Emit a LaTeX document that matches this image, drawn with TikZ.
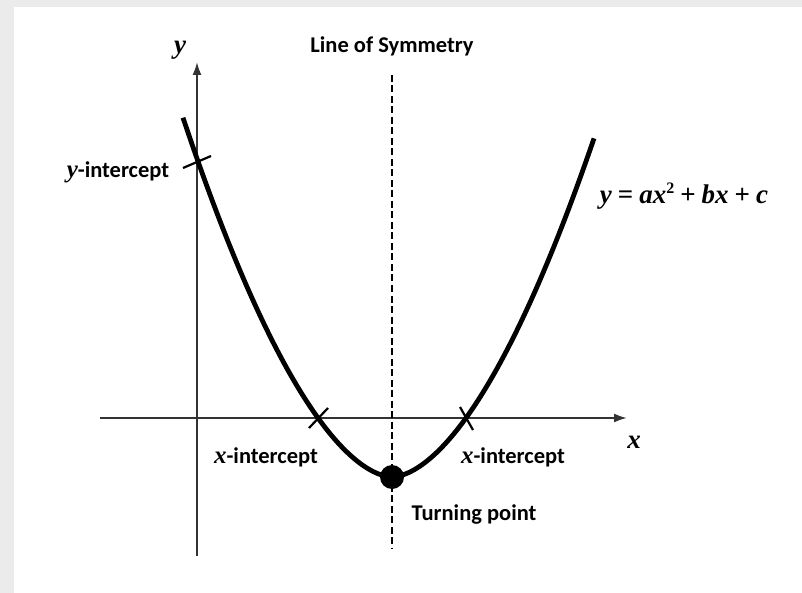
\documentclass[tikz,border=0pt]{standalone}
\usepackage{fontspec}
\setmainfont{Carlito}
\newfontfamily\eqfont{Liberation Serif}
\usetikzlibrary{arrows.meta}
\newcommand{\vv}[1]{{\fontsize{25}{28}\selectfont\eqfont\bfseries\itshape #1}}
\newcommand{\ev}[1]{{\fontsize{27}{30}\selectfont\eqfont\bfseries\itshape #1}}
\newcommand{\eo}[1]{\hspace{6pt}{\fontsize{27}{30}\selectfont\eqfont\bfseries #1}\hspace{6pt}}
\newcommand{\esup}[1]{\raisebox{10pt}{\fontsize{16}{18}\selectfont\eqfont\bfseries #1}}
\begin{document}
\begin{tikzpicture}[x=1pt,y=-1pt,
  lbl/.style={font=\fontsize{22.5}{27}\selectfont\bfseries, inner sep=0pt},
  axisline/.style={draw=black!80, line width=2pt, -{Latex[length=13pt,width=9pt]}},
  curveline/.style={line width=4.8pt, black},
  tickmark/.style={line width=2.2pt, black},
  symline/.style={line width=1.6pt, dash pattern=on 7pt off 3.5pt}]
\useasboundingbox (0,0) rectangle (802,593);
\fill[black!8] (0,0) rectangle (802,593);
\fill[white] (14,7) rectangle (802,593);
% axes and symmetry line
\coordinate (yb) at (197,556);
\coordinate (yt) at (197,62);
\coordinate (xl) at (100,418);
\coordinate (xr) at (627,418);
\coordinate (st) at (392,75);
\coordinate (sb) at (392,548);
\draw[axisline] (xl) -- (xr);
\draw[axisline] (yb) -- (yt);
\draw[symline] (st) -- (sb);
% curve
\draw[curveline, domain=-209:202, samples=150]
  plot ({392+\x},{477-59*((abs(\x)+0.01)/74)^1.74});
% turning point
\node[circle, fill=black, minimum size=24pt, inner sep=0pt] (tp) at (392,477) {};
% intercept ticks
\coordinate (ya) at (183,168);
\coordinate (yc) at (211,156);
\coordinate (la) at (309,428);
\coordinate (lb) at (328,408);
\coordinate (ra) at (460,407);
\coordinate (rb) at (473,430);
\draw[tickmark] (ya) -- (yc);
\draw[tickmark] (la) -- (lb);
\draw[tickmark] (ra) -- (rb);
% labels
\node[lbl] (ylab) at (180,50) {\ev{y}};
\node[lbl] (xlab) at (634,442) {\ev{x}};
\node[lbl] (los) at (392,46) {Line of Symmetry};
\node[lbl] (yint) at (118,172) {\vv{y}-intercept};
\node[lbl] (eq) at (684,196) {\ev{y}\eo{=}\ev{ax}\esup{2}\eo{+}\ev{bx}\eo{+}\ev{c}};
\node[lbl] (xint1) at (266,457) {\vv{x}-intercept};
\node[lbl] (xint2) at (513,457) {\vv{x}-intercept};
\node[lbl] (turn) at (474,515) {Turning point};
\end{tikzpicture}
\end{document}
